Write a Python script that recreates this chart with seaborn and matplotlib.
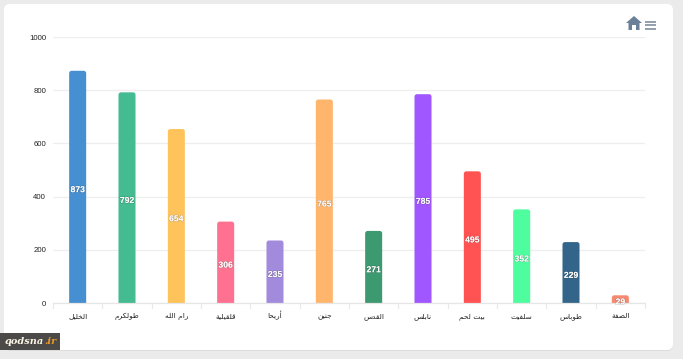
import unicodedata
import matplotlib
matplotlib.use("Agg")
import matplotlib.pyplot as plt
import matplotlib.patheffects as pe
import seaborn as sns
from matplotlib.patches import FancyBboxPatch, Polygon, Rectangle

cities = ["الخليل", "طولكرم", "رام الله", "قلقيلية", "أريحا", "جنين",
          "القدس", "نابلس", "بيت لحم", "سلفيت", "طوباس", "الضفة"]
counts = [873, 792, 654, 306, 235, 765, 271, 785, 495, 352, 229, 29]
count_labels = ["873", "792", "654", "306", "235", "765", "271", "785", "495", "352", "229", "29"]
bar_colors = ["#468fd0", "#45bb92", "#ffc35c", "#ff7190", "#a28bdd", "#ffb56b",
              "#3d9970", "#a157ff", "#ff5252", "#4dfd9e", "#33658a", "#f58a70"]
y_ticks = [0, 200, 400, 600, 800, 1000]


# matplotlib does not shape arabic, so map to presentation forms and reverse
forms = {}
for cp in range(0xFE70, 0xFEFD):
    dec = unicodedata.decomposition(chr(cp)).split()
    if len(dec) == 2:
        forms[(chr(int(dec[1], 16)), dec[0])] = chr(cp)


def shape(word):
    out = []
    for i, ch in enumerate(word):
        prev = word[i - 1] if i > 0 else " "
        nxt = word[i + 1] if i < len(word) - 1 else " "
        joins_prev = (prev, "<initial>") in forms
        joins_next = (ch, "<initial>") in forms and nxt != " "
        if joins_prev and joins_next:
            tag = "<medial>"
        elif joins_prev:
            tag = "<final>"
        elif joins_next:
            tag = "<initial>"
        else:
            tag = "<isolated>"
        out.append(forms.get((ch, tag), ch))
    return "".join(out)[::-1]


sns.set_theme(style="white")
plt.rcParams["font.family"] = ["Liberation Sans", "DejaVu Sans"]

fig = plt.figure(figsize=(6.83, 3.59), dpi=100, facecolor="#ebebeb")

# page chrome, in pixel coordinates
bg = fig.add_axes([0, 0, 1, 1], zorder=0)
bg.set_xlim(0, 683)
bg.set_ylim(359, 0)
bg.axis("off")
bg.add_patch(FancyBboxPatch((5, 5), 668, 346, boxstyle="round,pad=0,rounding_size=6",
                            fc="#dcdcdc", ec="none"))
bg.add_patch(FancyBboxPatch((4, 4), 669, 346, boxstyle="round,pad=0,rounding_size=6",
                            fc="white", ec="none"))
bg.add_patch(Polygon([(626, 23), (634, 16), (642, 23), (639.5, 23), (639.5, 30), (636, 30),
                      (636, 25), (632, 25), (632, 30), (628.5, 30), (628.5, 23)],
                     fc="#6b7f99", ec="none"))
for y in [21.5, 25, 28.5]:
    bg.plot([645, 656], [y, y], color="#8a97a5", lw=1.3, solid_capstyle="butt")
bg.add_patch(Rectangle((0, 333), 60, 17, fc="#4c4a48", ec="none"))
bg.text(5, 342, "qodsna", color="#fbf5e6", fontsize=7, family="DejaVu Serif",
        style="italic", weight="bold", va="center", ha="left")
bg.text(44, 342, ".ir", color="#e89a2c", fontsize=7, family="DejaVu Serif",
        style="italic", weight="bold", va="center", ha="left")

ax = fig.add_axes([53 / 683, 1 - 303 / 359, 592 / 683, 266 / 359], zorder=1)
ax.patch.set_alpha(0)

sns.barplot(x=cities, y=counts, hue=cities, palette=bar_colors, width=0.345,
            legend=False, saturation=1, ax=ax)

ax.set_xlim(-0.5, 11.5)
ax.set_ylim(0, 1000)
ax.set_yticks(y_ticks)
ax.set_xticks(range(len(cities)))
ax.set_xticklabels([" ".join(shape(w) for w in c.split(" ")[::-1]) for c in cities],
                   fontsize=5.3, color="#222222", family="DejaVu Sans", va="baseline")
ax.tick_params(axis="x", length=0, pad=11)
ax.tick_params(axis="y", length=0, pad=5, labelsize=5.6, labelcolor="#222222")
ax.grid(axis="y", color="#eeeeee", lw=0.9)
ax.set_axisbelow(True)
sns.despine(ax=ax, left=True, right=True, top=True)
ax.spines["bottom"].set_color("#e6e6e6")
ax.spines["bottom"].set_linewidth(0.9)

# category boundary ticks
for i in range(len(cities) + 1):
    ax.plot([i - 0.5, i - 0.5], [0, -0.018], transform=ax.get_xaxis_transform(),
            color="#e9e9e9", lw=0.9, clip_on=False)

# round off the bar tops, bottom gets clipped by the axes
bars = list(ax.patches)
for bar, label in zip(bars, count_labels):
    x, w, h = bar.get_x(), bar.get_width(), bar.get_height()
    bar.set_visible(False)
    ax.add_patch(FancyBboxPatch((x, -15), w, h + 15, boxstyle="round,pad=0,rounding_size=0.05",
                                mutation_aspect=185, fc=bar.get_facecolor(), ec="none", zorder=2))
    ax.annotate(label, (x + w / 2, h / 2), xytext=(0, -2), textcoords="offset points",
                color="white", fontsize=6.2, weight="bold", ha="center", va="center", zorder=3,
                path_effects=[pe.withStroke(linewidth=0.8, foreground="#00000030")])
ax.set_xlabel("")
ax.set_ylabel("")

fig.savefig("out.png", dpi=100)
